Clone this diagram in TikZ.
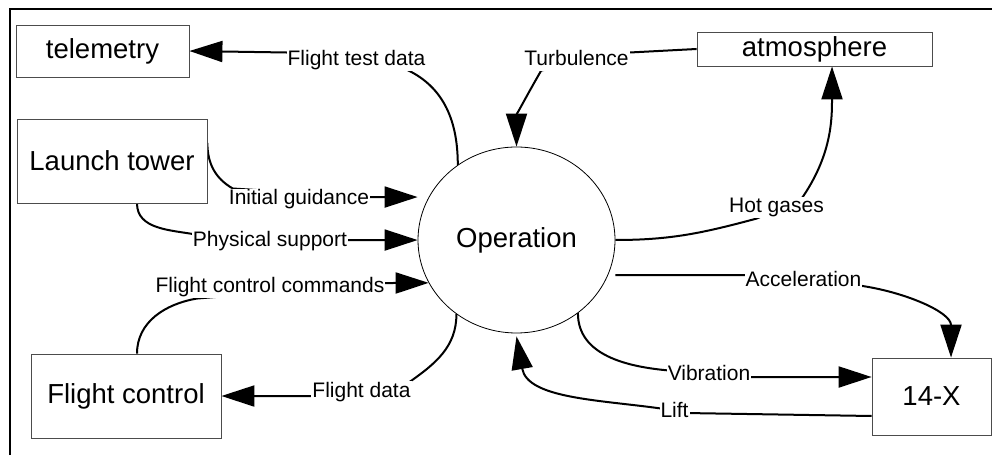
\documentclass[tikz,border=0pt]{standalone}
\usepackage{fontspec}
\setmainfont{Liberation Sans}
\usetikzlibrary{arrows.meta,shapes.geometric,calc}
\pgfdeclarelayer{background}
\pgfsetlayers{background,main}

\begin{document}
\begin{tikzpicture}[x=1pt,y=1pt,
  box/.style={draw=black!70, line width=0.8pt, fill=white, inner sep=0pt,
    font=\fontsize{27.5}{33}\selectfont},
  lbl/.style={fill=white, inner sep=1pt, text height=15.3pt, text depth=4.4pt,
    anchor=base, font=\fontsize{21}{25}\selectfont},
  flow/.style={line width=2pt, -{Triangle[length=33pt,width=21pt]}}]

\useasboundingbox (0,0) rectangle (992,455);

% external entities and the central process
\node[box, minimum width=173pt, minimum height=52pt] (tel) at (102.5,404) {telemetry};
\node[box, minimum width=190pt, minimum height=84pt] (lt)  at (112,294)   {Launch tower};
\node[box, minimum width=190pt, minimum height=84pt] (fc)  at (126,59)    {Flight control};
\node[box, minimum width=235pt, minimum height=34pt] (atm) at (814.5,406) {atmosphere};
\node[box, minimum width=119pt, minimum height=77pt] (x14) at (931.5,58.5) {14-X};
\node[draw, line width=0.8pt, fill=white, ellipse, inner sep=0pt,
  minimum width=197pt, minimum height=186pt,
  font=\fontsize{27.5}{33}\selectfont] (op) at (516.5,215) {Operation};

% flow labels
\node[lbl] (L1)  at (356.5,389) {Flight test data};
\node[lbl] (L2)  at (576.5,389) {Turbulence};
\node[lbl] (L3)  at (299,250)   {Initial guidance};
\node[lbl] (L4)  at (270,208)   {Physical support};
\node[lbl] (L5)  at (270,162)   {Flight control commands};
\node[lbl] (L6)  at (361.5,58)  {Flight data};
\node[lbl] (L7)  at (776.5,242) {Hot gases};
\node[lbl] (L8)  at (803.5,168) {Acceleration};
\node[lbl] (L9)  at (709,75)    {Vibration};
\node[lbl] (L10) at (674.5,38)  {Lift};

\begin{pgfonlayer}{background}
  % outer frame
  \draw[line width=2pt] (10,0) -- (10,445.5) -- (992,445.5);

  % flows (they run behind the white label boxes)
  \draw[flow] (op.128) to[out=90,in=-25] ([xshift=-20pt,yshift=2pt]L1.south east)
    -- ([yshift=-3pt]L1.north west) -- (tel.east);
  \draw[flow] (atm.west) -- ([yshift=-3pt]L2.north east)
    -- ([xshift=18pt,yshift=1pt]L2.south west) to[out=-120,in=90] (op.north);
  \draw[flow] ([yshift=18pt]lt.east) to[out=-90,in=150] ([xshift=5pt]L3.north west)
    -- ($(L3.east)+(-4pt,2.5pt)$) -- ($(L3.east -| op.west)+(0,2.5pt)$);
  \draw[flow] ([xshift=25pt]lt.south) to[out=-90,in=170] ([xshift=4pt,yshift=-4pt]L4.north west)
    -- ($(L4.east)+(-4pt,1.5pt)$) -- ($(L4.east -| op.west)+(0,1.5pt)$);
  \draw[flow] ([xshift=11pt]fc.north) to[out=90,in=190] ([xshift=42pt]L5.south west)
    -- ($(L5.east)+(-4pt,4.5pt)$) -- (op.206);
  \draw[flow] (op.231) to[out=-90,in=35] ([xshift=-3pt,yshift=-2pt]L6.north east)
    -- ($(L6.west)+(3pt,-4.5pt)$) -- (fc.east);
  \draw[flow] (op.east) to[out=0,in=-165] ([xshift=-20pt]L7.south)
    -- ([xshift=-24pt,yshift=-3pt]L7.north east) to[out=55,in=-90] ([xshift=17.5pt]atm.south);
  \draw[flow] ($(L8.center -| op.east)+(0,6.5pt)$) -- ($(L8.west)+(4pt,6.5pt)$)
    -- ($(L8.east)+(-3pt,-4pt)$) to[out=-8,in=90] ([xshift=19.5pt]x14.north);
  \draw[flow] (op.310) to[out=-90,in=175] ([xshift=3pt,yshift=4pt]L9.west)
    -- ($(L9.east)+(-3pt,-2.5pt)$) -- ([yshift=19.5pt]x14.west);
  \draw[flow] ([yshift=-19.5pt]x14.west) -- ($(L10.east)+(-2pt,-1.5pt)$)
    -- ($(L10.west)+(2pt,3pt)$) to[out=172,in=-80] ([yshift=-3pt]op.south);
\end{pgfonlayer}
\end{tikzpicture}
\end{document}
